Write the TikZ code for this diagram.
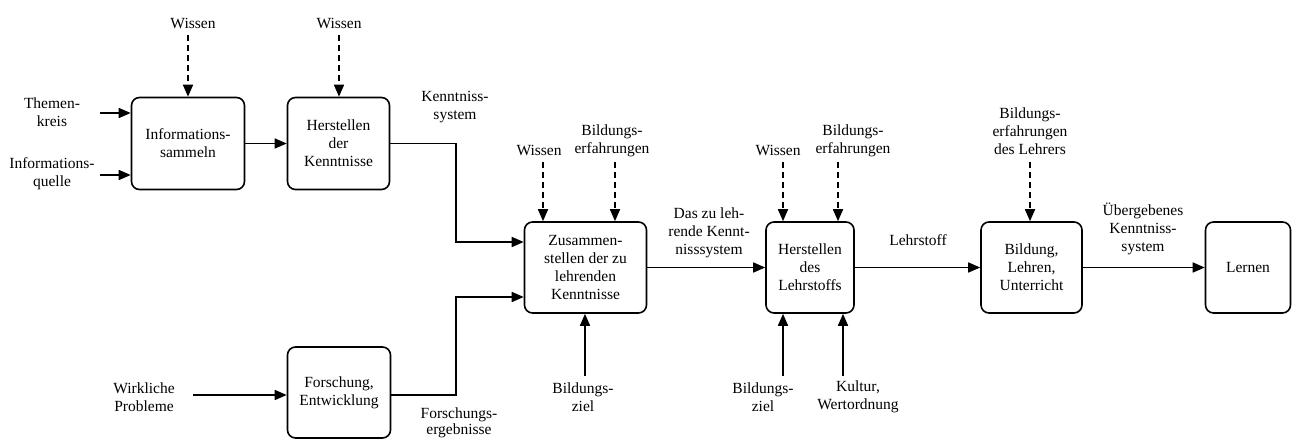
\documentclass[tikz,border=0pt]{standalone}
\usepackage{fontspec}
\setmainfont{Liberation Serif}
\usetikzlibrary{arrows.meta}
\begin{document}
\begin{tikzpicture}[x=1pt,y=-1pt,
  font=\fontsize{15.5}{18}\selectfont,
  box/.style={draw, line width=1.6pt, rounded corners=8pt, align=center, inner sep=0pt},
  lbl/.style={align=center, inner sep=0pt},
  arr/.style={line width=1.6pt, -{Triangle[length=12pt,width=10pt]}},
  darr/.style={arr, dash pattern=on 6pt off 4pt}]
\useasboundingbox (0,0) rectangle (1292,441);

% boxes
\node[box, minimum width=113pt, minimum height=92pt] (b1) at (188,143.5) {Informations-\\sammeln};
\node[box, minimum width=102pt, minimum height=92pt] (b2) at (338.5,143.5) {Herstellen\\der\\Kenntnisse};
\node[box, minimum width=122pt, minimum height=91pt] (b3) at (585.5,267.5) {Zusammen-\\stellen der zu\\lehrenden\\Kenntnisse};
\node[box, minimum width=88pt, minimum height=91pt] (b4) at (810,267.5) {Herstellen\\des\\Lehrstoffs};
\node[box, minimum width=101pt, minimum height=91pt] (b5) at (1031.5,267.5) {Bildung,\\Lehren,\\Unterricht};
\node[box, minimum width=85pt, minimum height=91pt] (b6) at (1248,267.5) {Lernen};
\node[box, minimum width=103pt, minimum height=91pt] (b7) at (339,392.5) {Forschung,\\Entwicklung};

% labels
\node[lbl] (tk) at (52,112) {Themen-\\kreis};
\node[lbl] (iq) at (52,174) {Informations-\\quelle};
\node[lbl] (w1) at (193,23) {Wissen};
\node[lbl] (w2) at (339,23) {Wissen};
\node[lbl] (ks) at (455,107) {Kenntniss-\\system};
\node[lbl] (wp) at (144,397) {Wirkliche\\Probleme};
\node[lbl, font=\fontsize{15.5}{16.5}\selectfont] (fe) at (459,423) {Forschungs-\\ergebnisse};
\node[lbl] (w3) at (539,150) {Wissen};
\node[lbl] (be3) at (612,141) {Bildungs-\\erfahrungen};
\node[lbl] (dz) at (709,233) {Das zu leh-\\rende Kennt-\\nisssystem};
\node[lbl] (bz3) at (583,397) {Bildungs-\\ziel};
\node[lbl] (w4) at (778,150) {Wissen};
\node[lbl] (be4) at (853,141) {Bildungs-\\erfahrungen};
\node[lbl] (bz4) at (763,397) {Bildungs-\\ziel};
\node[lbl] (kw) at (858,397) {Kultur,\\Wertordnung};
\node[lbl] (ls) at (918,240) {Lehrstoff};
\node[lbl] (bl) at (1030,131) {Bildungs-\\erfahrungen\\des Lehrers};
\node[lbl] (ue) at (1143,229) {Übergebenes\\Kenntniss-\\system};

% free ends
\coordinate (tks) at (100,113);
\coordinate (iqs) at (100,175);
\coordinate (w1s) at (188,35);
\coordinate (w2s) at (339,35);
\coordinate (wps) at (193,395);
\coordinate (w3s) at (543,162);
\coordinate (be3s) at (615,162);
\coordinate (w4s) at (783,162);
\coordinate (be4s) at (838,162);
\coordinate (bls) at (1030,162);
\coordinate (bz3s) at (585,376);
\coordinate (bz4s) at (783,376);
\coordinate (kws) at (843,376);
\coordinate (j1) at (456,143.5);
\coordinate (j2) at (456,395);

% connectors
\draw[arr] (tks) -- (tks -| b1.west);
\draw[arr] (iqs) -- (iqs -| b1.west);
\draw[darr] (w1s) -- (w1s |- b1.north);
\draw[darr] (w2s) -- (w2s |- b2.north);
\draw[arr] (b1.east) -- (b2.west);
\draw[arr] (b2.east) -- (j1) |- (b3.west |- 0,242);
\draw[arr] (wps) -- (wps -| b7.west);
\draw[arr] (b7.east |- j2) -- (j2) |- (b3.west |- 0,297);
\draw[darr] (w3s) -- (w3s |- b3.north);
\draw[darr] (be3s) -- (be3s |- b3.north);
\draw[arr] (bz3s) -- (bz3s |- b3.south);
\draw[arr] (b3.east) -- (b4.west);
\draw[darr] (w4s) -- (w4s |- b4.north);
\draw[darr] (be4s) -- (be4s |- b4.north);
\draw[arr] (bz4s) -- (bz4s |- b4.south);
\draw[arr] (kws) -- (kws |- b4.south);
\draw[arr] (b4.east) -- (b5.west);
\draw[darr] (bls) -- (bls |- b5.north);
\draw[arr] (b5.east) -- (b6.west);
\end{tikzpicture}
\end{document}
